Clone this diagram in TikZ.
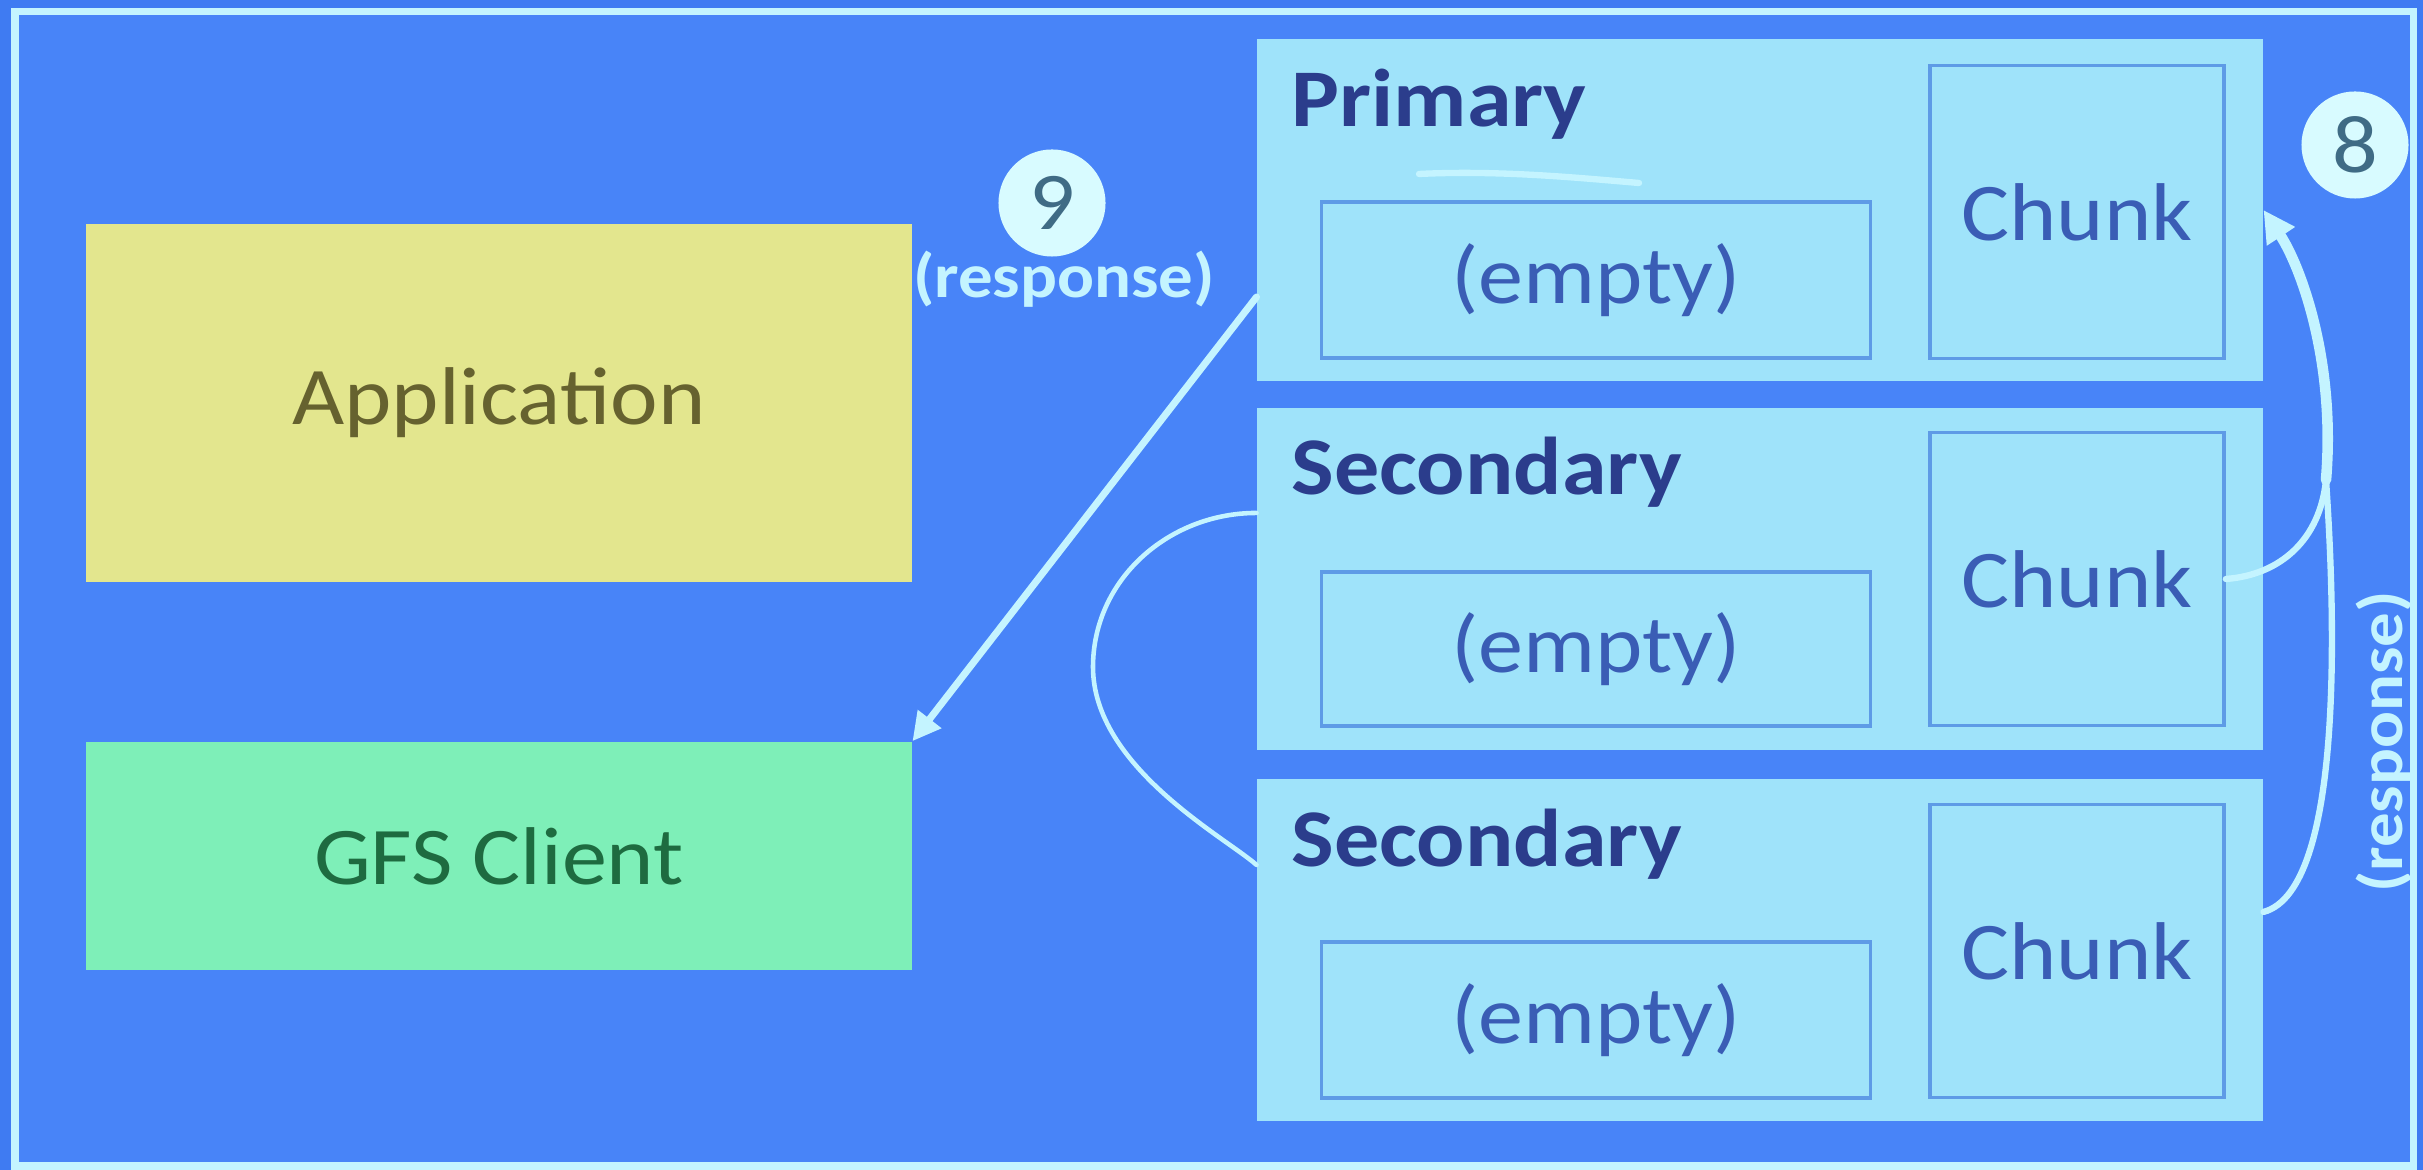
\documentclass[tikz,border=0pt]{standalone}
\usepackage{fontspec}
\setmainfont[FakeStretch=1.1]{Carlito}
\usetikzlibrary{arrows.meta}
\definecolor{bgblue}{HTML}{4884F8}
\definecolor{outblue}{HTML}{3F7BF2}
\definecolor{wirecol}{HTML}{C4F4FF}
\definecolor{appyel}{HTML}{E3E68E}
\definecolor{cligreen}{HTML}{7EEFB8}
\definecolor{srvcyan}{HTML}{9FE3FA}
\definecolor{srvline}{HTML}{5E9BE6}
\definecolor{navy}{HTML}{2B3D8C}
\definecolor{midblue}{HTML}{3A5DB5}
\definecolor{apptext}{HTML}{66622F}
\definecolor{clitext}{HTML}{1E6B40}
\definecolor{numtext}{HTML}{3F6B85}
\definecolor{numfill}{HTML}{D8FBFF}
\begin{document}
\begin{tikzpicture}[x=0.01cm, y=0.01cm,
  every node/.style={font=\fontsize{23.3}{28}\selectfont},
  box/.style={rectangle, inner sep=0pt, minimum width=8.25cm},
  srv/.style={rectangle, fill=srvcyan, inner sep=0pt, minimum width=10.05cm, minimum height=3.42cm},
  slot/.style={rectangle, draw=srvline, line width=1pt, fill=srvcyan, inner sep=0pt, text=midblue},
  role/.style={anchor=base west, inner sep=0pt, text=navy, font=\fontsize{23.3}{28}\selectfont\bfseries},
  num/.style={circle, fill=numfill, inner sep=0pt, minimum size=1.07cm, text=numtext},
  resp/.style={inner sep=0pt, text=wirecol, font=\fontsize{17.8}{20}\selectfont\bfseries},
  wire/.style={draw=wirecol, line cap=round}]
\fill[outblue] (0,0) rectangle (2423,1170);
\useasboundingbox (0,0) rectangle (2423,1170);
\draw[wirecol, line width=2pt, fill=bgblue] (15,4) rectangle (2413,1158);
\node[box, fill=appyel, minimum height=3.57cm, text=apptext] (app) at (499,767){Application};
\node[box, fill=cligreen, minimum height=2.28cm, text=clitext] (client) at (499,314){GFS Client};
\node[srv] (prim) at (1760,960){};
\node[srv] (sec1) at (1760,591){};
\node[srv] (sec2) at (1760,220){};
\node[role] (lbl0) at (1291,1043){Primary};
\node[role] (lbl1) at (1291,675){Secondary};
\node[role] (lbl2) at (1291,303){Secondary};
\node[slot, minimum width=5.49cm, minimum height=1.56cm] (emp0) at (1596,890){(empty)};
\node[slot, minimum width=5.49cm, minimum height=1.54cm] (emp1) at (1596,521){(empty)};
\node[slot, minimum width=5.49cm, minimum height=1.56cm] (emp2) at (1596,150){(empty)};
\node[slot, minimum width=2.94cm, minimum height=2.93cm] (chk0) at (2077,958){Chunk};
\node[slot, minimum width=2.94cm, minimum height=2.93cm] (chk1) at (2077,591){Chunk};
\node[slot, minimum width=2.94cm, minimum height=2.93cm] (chk2) at (2077,219){Chunk};
\draw[wire, line width=1.8pt] (1419,996) .. controls (1500,1000) and (1580,992) .. (1639,987);
\node[num] (num9) at (1052,967){9};
\node[resp] (resp9) at (1064,891){(response)};
\node[num] (num8) at (2355,1025){8};
\node[resp, rotate=90] (resp8) at (2384,428){(response)};
\draw[wire, line width=2pt, -{Triangle[length=8pt,width=8pt]}] ([yshift=-0.87cm]prim.west) -- (client.north east);
\draw[wire, line width=1.3pt] ([yshift=0.66cm]sec1.west) to[out=180,in=90] (1093,503) to[out=-90,in=138,out looseness=1,in looseness=0.4] ([yshift=0.85cm]sec2.west);
\coordinate (join) at (2326,690);
\draw[wire, line width=3pt, -{Triangle[length=9pt,width=9pt]}] (join) .. controls (2336,810) and (2300,905) .. (prim.east);
\draw[wire, line width=1.8pt] (chk1.east) .. controls (2280,595) and (2320,630) .. (join);
\draw[wire, line width=1.8pt] ([yshift=0.38cm]sec2.east) .. controls (2345,280) and (2335,560) .. (join);
\end{tikzpicture}
\end{document}
